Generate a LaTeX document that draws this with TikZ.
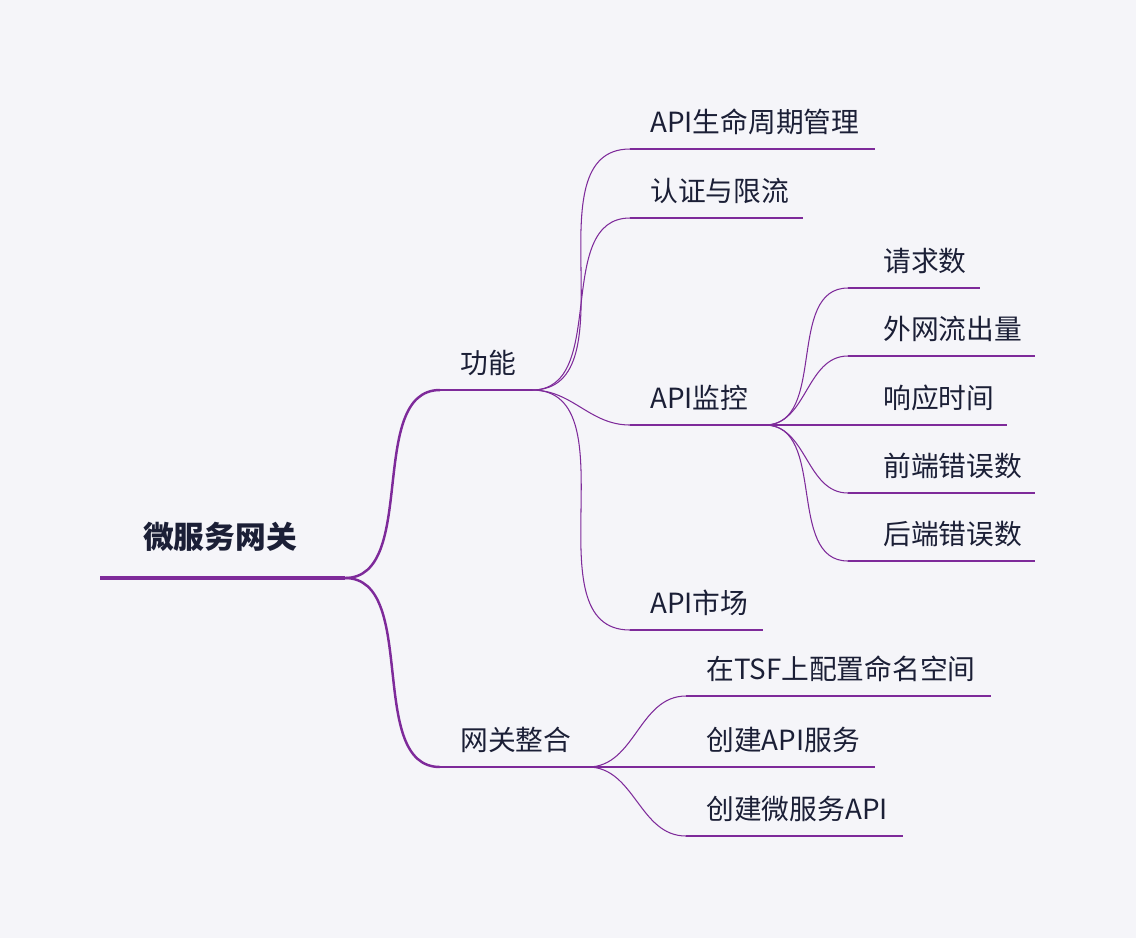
\documentclass[tikz,border=0pt]{standalone}
\usepackage{fontspec}
\setmainfont{Noto Sans CJK SC}
\definecolor{bgc}{HTML}{F5F5F9}
\definecolor{linec}{HTML}{7E2A9A}
\definecolor{txtc}{HTML}{1B1F36}
\newcommand{\topic}[7][20]{% indent, name, x1, x2, y, label, style
  \coordinate (#2-l) at (#3,#5);
  \coordinate (#2-r) at (#4,#5);
  \draw[#7] (#2-l) -- (#2-r);
  \node (#2) [anchor=base west] at ([xshift=#1*0.02cm,yshift=17*0.02cm]#2-l) {#6};}
\begin{document}
\begin{tikzpicture}
  [x=0.02cm,y=-0.02cm,every node/.style={text=txtc,font=\fontsize{15.8}{18}\selectfont,inner sep=0pt},
   link/.style={linec,line width=0.6pt},
   mid/.style={linec,line width=1.4pt},
   wire/.style={linec,line width=0.8pt}]
\useasboundingbox[fill=bgc] (0,0) rectangle (1136,938);
\coordinate (root-l) at (100,578);
\coordinate (root-r) at (345,578);
\draw[linec,line width=2.2pt] (root-l) -- (root-r);
\node (root) [font=\fontsize{17.5}{20}\selectfont\bfseries] at (220,537) {微服务网关};

\topic{func}{440}{532}{390}{功能}{mid}
\topic{gate}{440}{588}{767}{网关整合}{mid}
\foreach \c in {func,gate}
  \draw[mid] (root-r) to[out=0,in=180,looseness=0.9] (\c-l);

% 功能
\topic{life}{630}{875}{149}{API生命周期管理}{link}
\topic{auth}{630}{803}{218}{认证与限流}{link}
\topic{mon}{630}{765}{425}{API监控}{wire}
\topic{mkt}{630}{763}{630}{API市场}{link}
\foreach \c in {life,auth,mon,mkt}
  \draw[link] (func-r) to[out=0,in=180] (\c-l);

% API监控
\topic[35]{req}{848}{980}{288}{请求数}{link}
\topic[35]{out}{848}{1035}{356}{外网流出量}{link}
\topic[35]{resp}{848}{1007}{425}{响应时间}{link}
\topic[35]{fe}{848}{1035}{493}{前端错误数}{link}
\topic[35]{be}{848}{1035}{561}{后端错误数}{link}
\foreach \c in {req,out,resp,fe,be}
  \draw[link] (mon-r) to[out=0,in=180] (\c-l);

% 网关整合
\topic{tsf}{686}{991}{696}{在TSF上配置命名空间}{link}
\topic{mkapi}{686}{875}{767}{创建API服务}{link}
\topic{msapi}{686}{903}{836}{创建微服务API}{link}
\foreach \c in {tsf,mkapi,msapi}
  \draw[link] (gate-r) to[out=0,in=180] (\c-l);
\end{tikzpicture}
\end{document}
